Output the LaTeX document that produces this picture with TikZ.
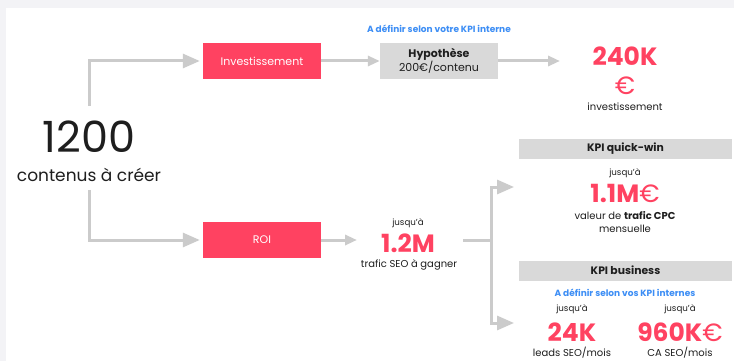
\documentclass[tikz,border=0pt]{standalone}
\usepackage{fontspec}
\setmainfont{Poppins}
\usetikzlibrary{arrows.meta}

\definecolor{accent}{HTML}{FF4261}
\definecolor{panelgray}{HTML}{D9D9D9}
\definecolor{linegray}{HTML}{CBCBCB}
\definecolor{infoblue}{HTML}{3D8EF5}
\definecolor{textdark}{HTML}{1E1E1E}
\definecolor{outer}{HTML}{F3F3F6}

\newcommand{\eurolight}{{\mdseries €}}

\tikzset{
  flow/.style={draw=linegray, line width=3pt},
  bigarr/.style={flow, -{Triangle[length=17pt,width=14pt]}},
  smallarr/.style={flow, -{Triangle[length=12pt,width=10pt]}},
  redbox/.style={fill=accent, text=white, minimum width=118pt, minimum height=36pt,
    inner sep=0pt, font=\fontsize{11}{12}\selectfont},
  graybox/.style={fill=panelgray, text=textdark, minimum width=118pt, minimum height=36pt,
    inner sep=0pt, align=center, font=\fontsize{11}{13}\selectfont},
  bar/.style={fill=panelgray, text=textdark, minimum width=213pt, minimum height=20pt,
    inner sep=0pt, font=\bfseries\fontsize{10.8}{12}\selectfont},
  small/.style={text=textdark, inner sep=0pt, font=\fontsize{8.7}{10}\selectfont},
  label/.style={text=textdark, inner sep=0pt, font=\fontsize{10}{11}\selectfont, align=center},
  bignum/.style={text=accent, inner sep=0pt, font=\bfseries\fontsize{25}{28}\selectfont},
  info/.style={text=infoblue, inner sep=0pt, font=\bfseries\fontsize{9}{10}\selectfont},
}

\begin{document}
\begin{tikzpicture}[x=1pt, y=-1pt]
  % page and white panel
  \fill[outer] (0,0) rectangle (734,361);
  \fill[white] (6,8) rectangle (734,361);
  \useasboundingbox (0,0) rectangle (734,361);

  % source figure
  \node[text=textdark, inner sep=0pt, font=\fontsize{43}{46}\selectfont] (total) at (89,137) {1200};
  \node[text=textdark, inner sep=0pt, font=\fontsize{17}{19}\selectfont] (totallbl) at (89,175) {contenus à créer};

  % two branches
  \node[redbox] (inv) at (262,61) {Investissement};
  \node[redbox] (roi) at (262,240) {ROI};

  % investment branch
  \node[info] (hypinfo) at (439,29) {A définir selon votre KPI interne};
  \node[graybox] (hyp) at (439,61) {\textbf{Hypothèse}\\200€/contenu};
  \node[bignum] (invnum) at (625,56) {240K};
  \node[bignum] (invcur) at (625,86) {\eurolight};
  \node[label] (invlbl) at (625,107) {investissement};
  \coordinate (invtip) at (560,61);

  % ROI branch
  \node[small] (roiup) at (408,223) {jusqu'à};
  \node[bignum] (roinum) at (408,243) {1.2M};
  \node[label] (roilbl) at (409,265) {trafic SEO à gagner};
  \coordinate (roitip) at (357,240);
  \coordinate (fork) at (491,240);
  \coordinate (forkstart) at (463,240);
  \coordinate (qwtip) at (514,187);
  \coordinate (biztip) at (514,323);

  % quick-win KPI
  \node[bar] (qw) at (625.5,148.5) {KPI quick-win};
  \node[small] (qwup) at (625,173) {jusqu'à};
  \node[bignum] (qwnum) at (625,193) {1.1M\eurolight};
  \node[label] (qwlbl) at (625,216) {valeur de \textbf{trafic CPC}};
  \node[label] (qwlbl2) at (625,229) {mensuelle};

  % business KPI
  \node[bar] (biz) at (625.5,270.5) {KPI business};
  \node[info] (bizinfo) at (625,293) {A définir selon vos KPI internes};
  \node[small] (leadup) at (572,309) {jusqu'à};
  \node[small] (caup) at (680,309) {jusqu'à};
  \node[bignum] (leadnum) at (572,332) {24K};
  \node[bignum] (canum) at (680,332) {960K\eurolight};
  \node[label] (leadlbl) at (572,353) {leads SEO/mois};
  \node[label] (calbl) at (680,353) {CA SEO/mois};

  % connectors
  \draw[bigarr, shorten >=3pt] ([yshift=15pt]total.north) |- (inv.west);
  \draw[bigarr, shorten >=3pt] ([yshift=-8pt]totallbl.south) |- (roi.west);
  \draw[smallarr] (inv.east) -- (hyp.west);
  \draw[smallarr] (hyp.east) -- (invtip);
  \draw[smallarr] (roi.east) -- (roitip);
  \draw[flow] (forkstart) -- (fork);
  \draw[bigarr] (fork) |- (qwtip);
  \draw[bigarr] (fork) |- (biztip);
\end{tikzpicture}
\end{document}
